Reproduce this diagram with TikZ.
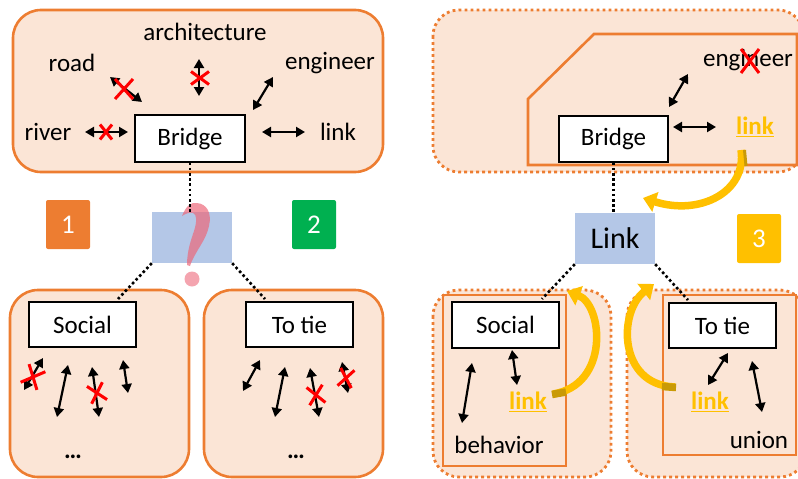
\documentclass[tikz,border=0pt]{standalone}
\usepackage{fontspec}
\setmainfont{Carlito}
\usetikzlibrary{arrows.meta}

\definecolor{peach}{HTML}{FBE5D6}
\definecolor{orng}{HTML}{ED7D31}
\definecolor{bluebox}{HTML}{B4C7E7}
\definecolor{grn}{HTML}{00B050}
\definecolor{gold}{HTML}{FFC000}
\definecolor{darkgold}{HTML}{C99A06}
\definecolor{qpink}{RGB}{236,104,122}

\tikzset{
  panel/.style={draw=orng, line width=2.6pt, fill=peach, rounded corners=28pt},
  dotpanel/.style={draw=orng, line width=2.8pt, fill=peach, rounded corners=26pt,
                   dash pattern=on 2.8pt off 3.2pt},
  frame/.style={draw=orng, line width=2.6pt},
  wordbox/.style={draw=black, line width=1.2pt, fill=white, inner sep=0pt,
                  font=\fontsize{25}{30}\selectfont},
  word/.style={inner sep=0pt, font=\fontsize{25}{30}\selectfont},
  goldword/.style={inner sep=0pt, text=gold, font=\bfseries\fontsize{25}{30}\selectfont},
  badge/.style={minimum width=44pt, minimum height=49pt, inner sep=0pt,
                rounded corners=2pt, text=white, font=\fontsize{27}{32}\selectfont},
  twoway/.style={draw, line width=2.2pt,
                 {Triangle[length=9pt,width=10pt]}-{Triangle[length=9pt,width=10pt]}},
  dotline/.style={draw, line width=2.6pt, dash pattern=on 2.6pt off 2.6pt},
  curlarrow/.style={draw=gold, line width=7.5pt,
                    -{Triangle[length=13pt,width=20pt]}},
  redx/.pic={\draw[red, line width=3pt] (-1,-1) -- (1,1) (-1,1) -- (1,-1);}
}

\begin{document}
\begin{tikzpicture}[x=1pt, y=-1pt]
\useasboundingbox (0,0) rectangle (798,479);
\clip (0,0) rectangle (798,479);

% ---------- left: the word "Bridge" and its neighbours ----------
\draw[panel] (13,10) rectangle (383,172);
\node[wordbox, minimum width=110pt, minimum height=47pt] (bridgeL) at (190,138.5) {Bridge};
\node[word] (arch)  at (205,32)  {architecture};
\node[word] (road)  at (72,63)   {road};
\node[word] (engL)  at (330,63)  {engineer};
\node[word] (river) at (48,132)  {river};
\node[word] (linkL) at (338,132) {link};

\draw[twoway] (110,77) -- (142,102);
\draw[twoway] (199,59) -- (199,96);
\draw[twoway] (273,77) -- (253,110);
\draw[twoway] (85,132) -- (128,132);
\draw[twoway] (262,132) -- (305,132);
\pic[xscale=9, yscale=10] at (124,89) {redx};
\pic[xscale=9, yscale=6.5] at (200,78) {redx};
\pic[xscale=6, yscale=7.5] at (106,132) {redx};

% ---------- badges ----------
\node[badge, fill=orng] (b1) at (68,224.5)  {1};
\node[badge, fill=grn]  (b2) at (314,224.5) {2};
\node[badge, fill=gold] (b3) at (759,238.5) {3};

% ---------- unknown sense ----------
\node[fill=bluebox, minimum width=80pt, minimum height=51pt, inner sep=0pt] (qbox) at (192,237.5) {};
\fill[qpink, fill opacity=0.7]
  (182,216) .. controls (186,206) and (191,202) .. (197,203)
  .. controls (207,204) and (212,213) .. (209,226)
  .. controls (206,241) and (195,251) .. (190,266)
  -- (187,265)
  .. controls (187,251) and (191,240) .. (194,231)
  .. controls (197,222) and (197,214) .. (193,213)
  .. controls (189,212) and (185,214) .. (182,216) -- cycle;
\fill[qpink, fill opacity=0.6] (192,279) circle (7.5pt);
\draw[dotline] (bridgeL.south) -- (bridgeL.south |- qbox.north);

% ---------- left: two candidate senses ----------
\draw[panel] (10,290) rectangle (189,477);
\draw[panel] (204,290) rectangle (383,477);
\node[wordbox, minimum width=107pt, minimum height=45pt] (socL) at (82.5,324.5) {Social};
\node[wordbox, minimum width=107pt, minimum height=45pt] (tieL) at (299.5,324.5) {To tie};
\coordinate (socLtop) at (118,299);
\coordinate (tieLtop) at (265,299);
\draw[dotline] (qbox.south west) -- (socLtop);
\draw[dotline] (qbox.south east) -- (tieLtop);

\draw[twoway] (43,358) -- (24,390);
\draw[twoway] (68,365) -- (57,417);
\draw[twoway] (92,367) -- (99,417);
\draw[twoway] (123,360) -- (128,393);
\pic[rotate=-25, xscale=9, yscale=10] at (33,377) {redx};
\pic[rotate=15, xscale=8, yscale=9] at (97,393) {redx};
\node[word, font=\bfseries\fontsize{25}{30}\selectfont] (dotsL) at (73,457) {…};

\draw[twoway] (260,360) -- (243,391);
\draw[twoway] (285,367) -- (275,417);
\draw[twoway] (310,368) -- (319,417);
\draw[twoway] (342,362) -- (348,393);
\pic[rotate=10, xscale=8, yscale=9] at (316,395) {redx};
\pic[rotate=-10, xscale=7, yscale=9] at (346,378) {redx};
\node[word, font=\bfseries\fontsize{25}{30}\selectfont] (dotsT) at (296,457) {…};

% ---------- right: the word "Bridge" in context ----------
\draw[dotpanel] (433,10) rectangle (804,172);
\draw[frame] (594,34) -- (797,34) -- (797,165) -- (528,165) -- (528,99) -- cycle;
\node[wordbox, minimum width=109pt, minimum height=46pt] (bridgeR) at (613.5,139) {Bridge};
\node[word] (engR) at (748,60) {engineer};
\pic[xscale=9, yscale=12] at (750,61) {redx};
\node[goldword] (linkR) at (755,127) {\underline{link}};
\draw[twoway] (688,74) -- (669,107);
\draw[twoway] (673,127) -- (716,127);

\node[fill=bluebox, minimum width=80pt, minimum height=51pt, inner sep=0pt,
      font=\fontsize{30}{36}\selectfont] (linkbox) at (615,238.5) {Link};
\draw[dotline] (bridgeR.south) -- (bridgeR.south |- linkbox.north);

% ---------- right: the two senses in context ----------
\draw[dotpanel] (433,290) rectangle (611,477);
\draw[frame] (443,295) rectangle (566,466);
\draw[dotpanel] (627,290) rectangle (806,477);
\draw[frame] (663,295) rectangle (796,455);

\node[wordbox, minimum width=107pt, minimum height=46pt] (socR) at (505.5,325) {Social};
\node[wordbox, minimum width=107pt, minimum height=45pt] (tieR) at (722.5,325.5) {To tie};
\coordinate (socRtop) at (542,299);
\coordinate (tieRtop) at (688,300);
\draw[dotline] (linkbox.south west) -- (socRtop);
\draw[dotline] (linkbox.south east) -- (tieRtop);

\node[goldword] (linkS) at (528,402) {\underline{link}};
\node[word] (behav) at (499,445) {behavior};
\node[goldword] (linkT) at (710,402) {\underline{link}};
\node[word] (union) at (759,440) {union};

\draw[twoway] (472,363) -- (462,423);
\draw[twoway] (512,350) -- (517,385);
\draw[twoway] (728,353) -- (708,385);
\draw[twoway] (752,361) -- (762,412);

% ---------- curved gold arrows ----------
\draw[curlarrow] (741,150) .. controls (747,192) and (700,216) .. (643,198);
\draw[darkgold, line width=3pt] (744.5,150) .. controls (746,158) .. (746,166);

\draw[curlarrow] (553,394) .. controls (610,385) and (603,305) .. (567,291);
\draw[darkgold, line width=7.5pt] (552,394.5) -- (566,392);

\draw[curlarrow] (675,387) .. controls (618,385) and (618,312) .. (654,284);
\draw[darkgold, line width=7.5pt] (676,387.5) -- (662,386.5);
\end{tikzpicture}
\end{document}
